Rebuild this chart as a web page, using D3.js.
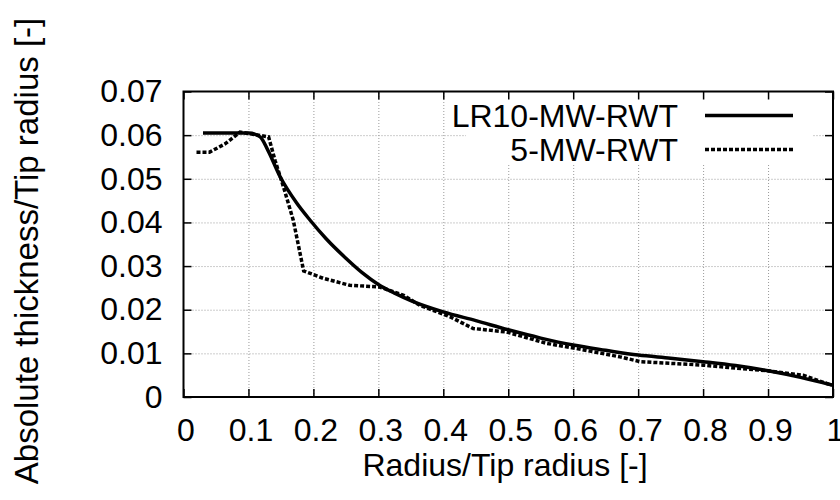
<!DOCTYPE html>
<html>
<head>
<meta charset="utf-8">
<script src="https://cdn.jsdelivr.net/npm/d3@7"></script>
<style>
  body { margin: 0; background: #fff; }
  svg text { font-family: "Liberation Sans", Arial, Helvetica, sans-serif; fill: #000; }
</style>
</head>
<body>
<div id="chart"></div>
<script>
// series names
var seriesNames = ["LR10-MW-RWT", "5-MW-RWT"];

// LR10-MW-RWT (solid)
var lr10X = [0.03, 0.06, 0.1, 0.118, 0.13, 0.149, 0.174, 0.195, 0.22, 0.25, 0.275, 0.3, 0.325, 0.35, 0.4, 0.45, 0.5, 0.55, 0.6, 0.65, 0.7, 0.75, 0.8, 0.85, 0.9, 0.95, 1.0];
var lr10Y = [0.0605, 0.0605, 0.0605, 0.0596, 0.0565, 0.0504, 0.0445, 0.0405, 0.0362, 0.0318, 0.0285, 0.0258, 0.0238, 0.0221, 0.0195, 0.0175, 0.0154, 0.0135, 0.0119, 0.0107, 0.0096, 0.0089, 0.0081, 0.0072, 0.0060, 0.0045, 0.0027];

// 5-MW-RWT (dashed)
var rwt5X = [0.02, 0.04, 0.064, 0.087, 0.103, 0.131, 0.141, 0.154, 0.169, 0.185, 0.215, 0.256, 0.302, 0.339, 0.364, 0.41, 0.446, 0.497, 0.559, 0.605, 0.672, 0.703, 0.8, 0.851, 0.9, 0.954, 0.998];
var rwt5Y = [0.0561, 0.0561, 0.058, 0.0607, 0.0603, 0.0596, 0.0542, 0.0481, 0.0405, 0.0289, 0.0272, 0.0256, 0.0252, 0.0233, 0.021, 0.0184, 0.0157, 0.0149, 0.0123, 0.0111, 0.0092, 0.0081, 0.0073, 0.0066, 0.006, 0.005, 0.0027];

// ticks
var xTicks = [0, 0.1, 0.2, 0.3, 0.4, 0.5, 0.6, 0.7, 0.8, 0.9, 1];
var xTickLabels = ["0", "0.1", "0.2", "0.3", "0.4", "0.5", "0.6", "0.7", "0.8", "0.9", "1"];
var yTicks = [0, 0.01, 0.02, 0.03, 0.04, 0.05, 0.06, 0.07];
var yTickLabels = ["0", "0.01", "0.02", "0.03", "0.04", "0.05", "0.06", "0.07"];

var xTitle = "Radius/Tip radius [-]";
var yTitle = "Absolute thickness/Tip radius [-]";

// layout
var W = 840, H = 500;
var margin = { top: 91.5, right: 7, bottom: 103, left: 183.5 };
var width = W - margin.left - margin.right,
    height = H - margin.top - margin.bottom;
var fontSize = 32;

var svg = d3.select("#chart").append("svg")
    .attr("width", W)
    .attr("height", H);

var g = svg.append("g")
    .attr("transform", "translate(" + margin.left + "," + margin.top + ")");

var x = d3.scaleLinear().domain([0, 1]).range([0, width]);
var y = d3.scaleLinear().domain([0, 0.07]).range([height, 0]);

// grid
var gridX = g.append("g")
    .attr("transform", "translate(0," + height + ")")
    .call(d3.axisBottom(x).tickValues(xTicks.slice(1, -1)).tickSize(-height).tickFormat(""));
var gridY = g.append("g")
    .call(d3.axisLeft(y).tickValues(yTicks.slice(1, -1)).tickSize(-width).tickFormat(""));
[gridX, gridY].forEach(function(s) {
    s.select(".domain").remove();
    s.selectAll("line")
        .attr("stroke", "#9a9a9a")
        .attr("stroke-width", 1)
        .attr("stroke-dasharray", "1,2");
});

// legend background (opaque key hides the grid)
g.append("rect")
    .attr("x", x(0.435))
    .attr("y", 1)
    .attr("width", x(0.969) - x(0.435))
    .attr("height", 72)
    .attr("fill", "#fff");

// tick marks on all four sides, pointing inward
function styleAxis(s) {
    s.select(".domain").remove();
    s.selectAll(".tick line").attr("stroke", "#000").attr("stroke-width", 1.5);
    s.selectAll("text").style("font-size", fontSize + "px").attr("fill", "#000");
}
var fmtX = function(d) { return xTickLabels[xTicks.indexOf(d)]; };
var fmtY = function(d) { return yTickLabels[yTicks.indexOf(d)]; };

g.append("g")
    .attr("transform", "translate(0," + height + ")")
    .call(d3.axisBottom(x).tickValues(xTicks).tickSize(-8).tickPadding(21).tickFormat(fmtX))
    .call(styleAxis)
    .selectAll("text").attr("x", 2);
g.append("g")
    .call(d3.axisTop(x).tickValues(xTicks).tickSize(-8).tickFormat(""))
    .call(styleAxis);
g.append("g")
    .call(d3.axisLeft(y).tickValues(yTicks).tickSize(-8).tickPadding(21).tickFormat(fmtY))
    .call(styleAxis);
g.append("g")
    .attr("transform", "translate(" + width + ",0)")
    .call(d3.axisRight(y).tickValues(yTicks).tickSize(-8).tickFormat(""))
    .call(styleAxis);

// border
g.append("rect")
    .attr("width", width)
    .attr("height", height)
    .attr("fill", "none")
    .attr("stroke", "#000")
    .attr("stroke-width", 2);

// lines
var solidData = lr10X.map(function(d, i) { return [d, lr10Y[i]]; });
var dashData = rwt5X.map(function(d, i) { return [d, rwt5Y[i]]; });

var line = d3.line()
    .x(function(d) { return x(d[0]); })
    .y(function(d) { return y(d[1]); });

g.append("path")
    .datum(solidData)
    .attr("d", line.curve(d3.curveMonotoneX))
    .attr("fill", "none")
    .attr("stroke", "#000")
    .attr("stroke-width", 3.5)
    .attr("stroke-linejoin", "round");

g.append("path")
    .datum(dashData)
    .attr("d", line.curve(d3.curveLinear))
    .attr("fill", "none")
    .attr("stroke", "#000")
    .attr("stroke-width", 3.5)
    .attr("stroke-dasharray", "4,2");

// legend
var legend = g.append("g");
seriesNames.forEach(function(name, i) {
    var ly = 24 + i * 34;
    legend.append("text")
        .attr("x", 678 - margin.left)
        .attr("y", ly + 11)
        .attr("text-anchor", "end")
        .style("font-size", fontSize + "px")
        .text(name);
    legend.append("line")
        .attr("x1", 705 - margin.left)
        .attr("x2", 793 - margin.left)
        .attr("y1", ly)
        .attr("y2", ly)
        .attr("stroke", "#000")
        .attr("stroke-width", 3.5)
        .attr("stroke-dasharray", i == 1 ? "4,2" : null);
});

// axis titles
svg.append("text")
    .attr("x", 505)
    .attr("y", 476)
    .attr("text-anchor", "middle")
    .style("font-size", fontSize + "px")
    .text(xTitle);

svg.append("text")
    .attr("transform", "translate(38,251) rotate(-90)")
    .attr("text-anchor", "middle")
    .style("font-size", "33px")
    .text(yTitle);
</script>
</body>
</html>
